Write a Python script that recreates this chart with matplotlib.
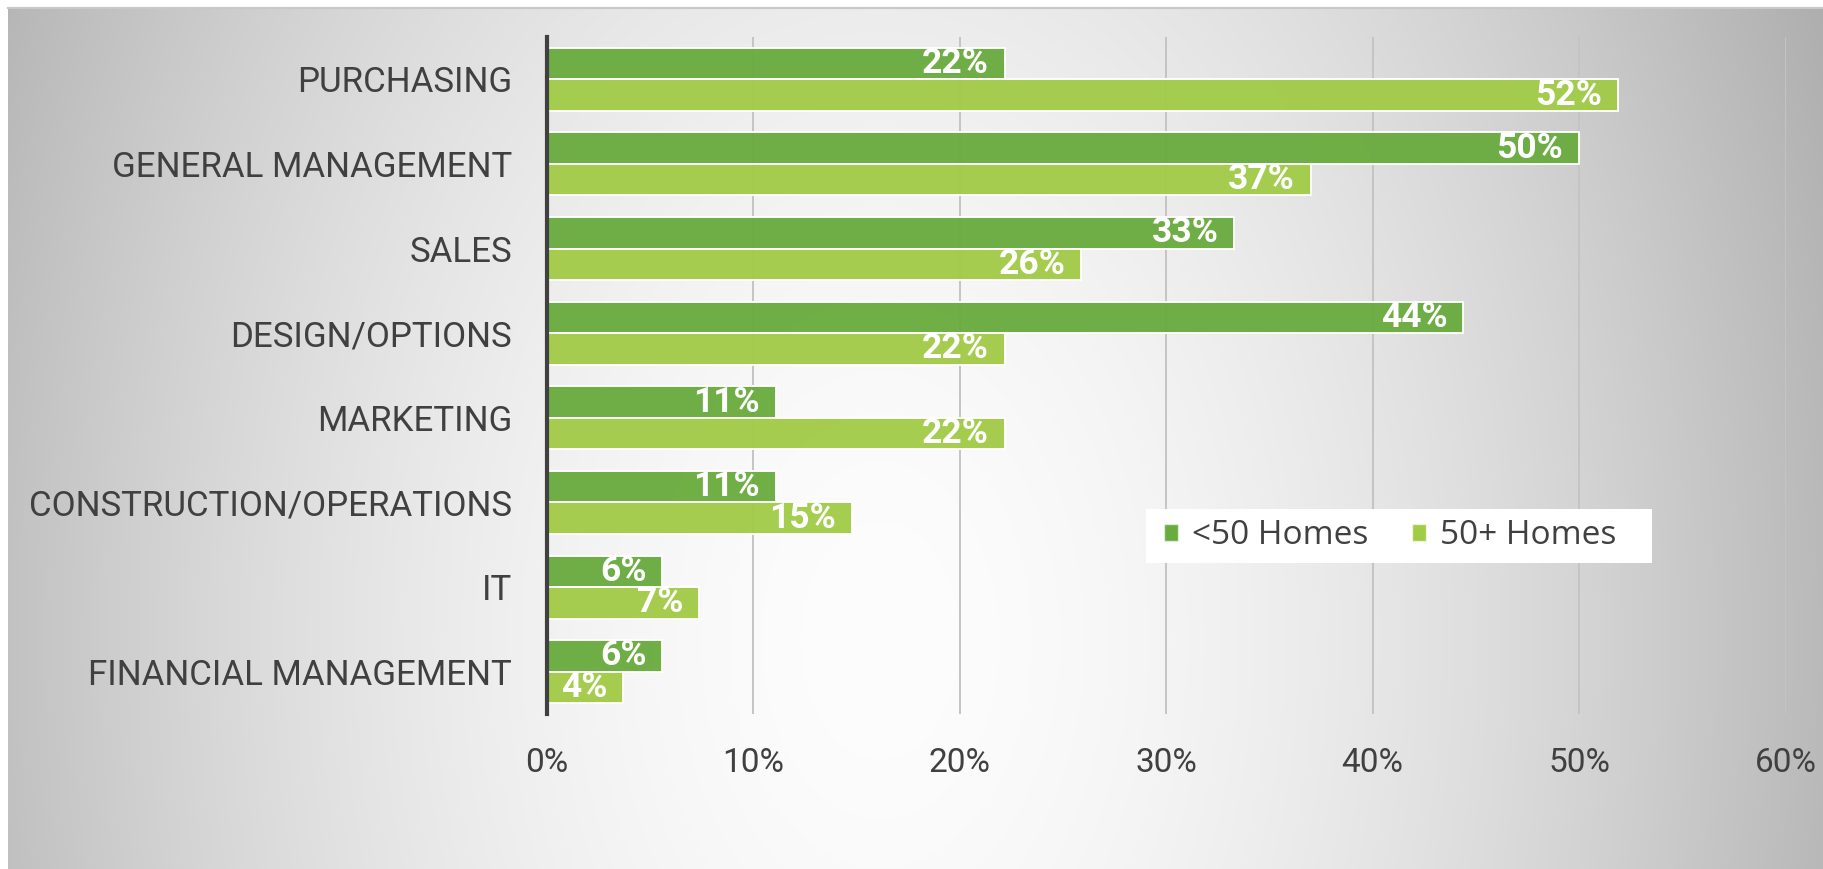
import numpy as np
import matplotlib
matplotlib.use("Agg")
import matplotlib.pyplot as plt
from matplotlib.patches import Patch, Rectangle

# Share of respondents by department, split by builder size
categories = ["PURCHASING", "GENERAL MANAGEMENT", "SALES", "DESIGN/OPTIONS",
              "MARKETING", "CONSTRUCTION/OPERATIONS", "IT", "FINANCIAL MANAGEMENT"]
under_50 = [22.2, 50.0, 33.3, 44.4, 11.1, 11.1, 5.6, 5.6]
over_50 = [51.9, 37.0, 25.9, 22.2, 22.2, 14.8, 7.4, 3.7]
series_names = ["<50 Homes", "50+ Homes"]
x_ticks = [0, 10, 20, 30, 40, 50, 60]

DARK_GREEN = "#6aab3f"
LIGHT_GREEN = "#a2cb48"
TEXT = "#404040"

W, H, DPI = 1824, 869, 100
fig = plt.figure(figsize=(W / DPI, H / DPI), dpi=DPI, facecolor="white")

# Radial grey-to-white backdrop
bg = fig.add_axes([8 / W, 0, 1 - 8 / W, 1 - 7 / H], zorder=-10)
yy, xx = np.mgrid[0:H - 7, 0:W - 8]
cx, cy, rx, ry = 880.0, 640.0, 930.0, 1400.0
d = np.sqrt(((xx + 8 - cx) / rx) ** 2 + ((yy + 7 - cy) / ry) ** 2)
shade = 253 - 66 * np.clip(d, 0, 1.2) ** 1.7
shade = np.clip(shade, 0, 255) / 255.0
bg.imshow(np.dstack([shade] * 3), aspect="auto", interpolation="bilinear")
bg.set_axis_off()
fig.add_artist(plt.Line2D([8 / W, 1], [1 - 7.5 / H, 1 - 7.5 / H],
                          color="#c8c8c8", lw=1.5, transform=fig.transFigure))

ax = fig.add_axes([546.7 / W, 1 - 714 / H, (1785.5 - 546.7) / W, (714 - 37) / H])
ax.patch.set_alpha(0)

y = np.arange(len(categories))
h = 0.372
edge = (1, 1, 1, 0.4)
bars1 = ax.barh(y - h / 2, under_50, height=h, color=DARK_GREEN,
                edgecolor=edge, linewidth=1.4, alpha=0.96, zorder=3,
                label=series_names[0])
bars2 = ax.barh(y + h / 2, over_50, height=h, color=LIGHT_GREEN,
                edgecolor=edge, linewidth=1.4, alpha=0.96, zorder=3,
                label=series_names[1])

for bars, vals in ((bars1, under_50), (bars2, over_50)):
    for bar, v in zip(bars, vals):
        ax.annotate(f"{v:.0f}%", xy=(v, bar.get_y() + bar.get_height() / 2),
                    xytext=(-11.5, 0), textcoords="offset points",
                    ha="right", va="center", color="white",
                    fontfamily="Roboto", fontweight="bold", fontsize=25.5, zorder=5)

ax.set_xlim(0, 60)
ax.set_ylim(len(categories) - 0.5, -0.5)
ax.set_xticks(x_ticks)
ax.set_xticklabels([f"{t}%" for t in x_ticks], fontfamily="Roboto",
                   fontsize=24, color=TEXT)
ax.set_yticks(y)
ax.set_yticklabels(categories, fontfamily="Roboto", fontsize=25.1, color=TEXT)
ax.tick_params(axis="both", length=0)
ax.tick_params(axis="y", pad=25)
ax.tick_params(axis="x", pad=24)

for t in x_ticks[1:]:
    ax.axvline(t, color="#c4c4c4", lw=1.4, zorder=1)
for s in ["top", "right", "bottom"]:
    ax.spines[s].set_visible(False)
ax.spines["left"].set_color("#404040")
ax.spines["left"].set_linewidth(3)
ax.spines["left"].set_zorder(6)

# Legend on a plain white panel
fig.add_artist(Rectangle((1146 / W, 1 - 563 / H), (1652 - 1146) / W, 54 / H,
                         transform=fig.transFigure, facecolor="white",
                         edgecolor="none", zorder=8))
handles = [Patch(facecolor=DARK_GREEN, edgecolor=(1, 1, 1, 0.6), lw=1),
           Patch(facecolor=LIGHT_GREEN, edgecolor=(1, 1, 1, 0.6), lw=1)]
leg = fig.legend(handles, series_names, loc="center left",
                 bbox_to_anchor=(1164 / W, 1 - 536 / H),
                 ncol=2, frameon=False,
                 prop={"family": "Open Sans", "size": 24},
                 handlelength=0.42, handleheight=0.42, handletextpad=0.42,
                 columnspacing=1.3, borderpad=0, borderaxespad=0)
leg.set_zorder(9)
for txt in leg.get_texts():
    txt.set_color(TEXT)

fig.savefig("out.png", dpi=DPI, facecolor="white")
